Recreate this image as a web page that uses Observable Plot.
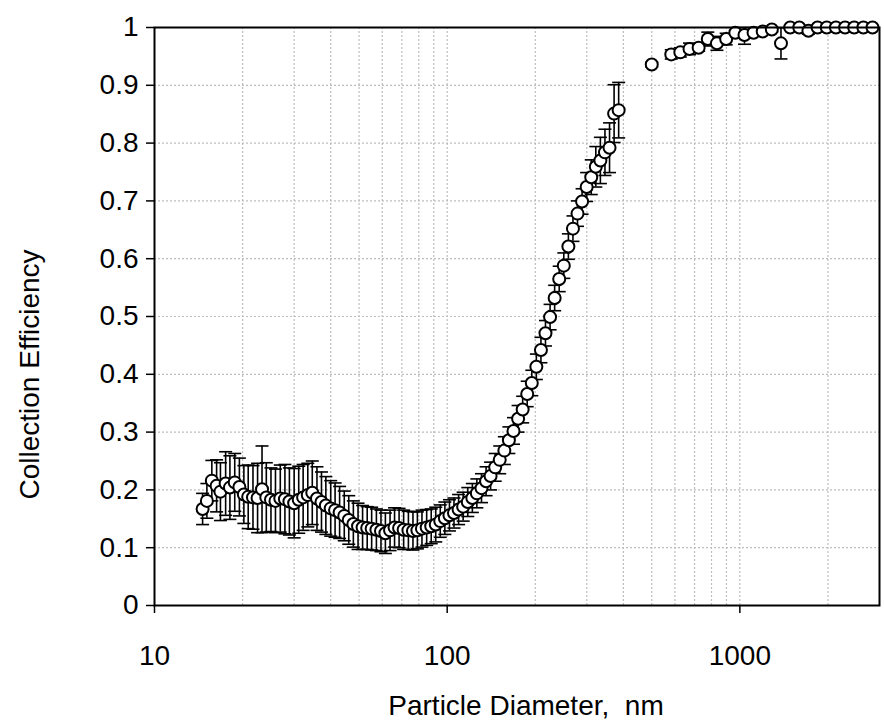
<!DOCTYPE html>
<html>
<head>
<meta charset="utf-8">
<script src="https://cdn.jsdelivr.net/npm/d3@7"></script>
<script src="https://cdn.jsdelivr.net/npm/@observablehq/plot@0.6"></script>
<style>
  html, body { margin: 0; padding: 0; background: #fff; }
  #chart svg { display: block; }
  #chart svg text { white-space: pre; }
</style>
</head>
<body>
<div id="chart"></div>
<script>
// SMPS range (nm)
const smpsDiameter = [14.6, 15.1, 15.7, 16.3, 16.8, 17.5, 18.1, 18.8, 19.5, 20.2, 20.9, 21.7, 22.5, 23.3, 24.1, 25.0, 25.9, 26.9, 27.9, 28.9, 30.0, 31.1, 32.2, 33.4, 34.6, 35.9, 37.2, 38.5, 40.0, 41.4, 42.9, 44.5, 46.1, 47.8, 49.6, 51.4, 53.3, 55.2, 57.3, 59.4, 61.5, 63.8, 66.1, 68.5, 71.0, 73.7, 76.4, 79.1, 82.0, 85.1, 88.2, 91.4, 94.7, 98.2, 101.8, 105.5, 109.4, 113.4, 117.6, 121.9, 126.3, 131.0, 135.8, 140.7, 145.9, 151.2, 156.8, 162.5, 168.5, 174.7, 181.1, 187.7, 194.6, 201.7, 209.1, 216.7, 224.7, 232.9, 241.4, 250.3, 259.5, 269.0, 278.8, 289.0, 299.6, 310.6, 322.0, 333.8, 346.0, 358.7, 371.8, 385.4];
const smpsEfficiency = [0.167, 0.181, 0.216, 0.207, 0.197, 0.211, 0.204, 0.213, 0.205, 0.192, 0.188, 0.187, 0.186, 0.201, 0.187, 0.183, 0.181, 0.185, 0.184, 0.180, 0.177, 0.183, 0.187, 0.191, 0.195, 0.185, 0.179, 0.173, 0.168, 0.165, 0.161, 0.155, 0.148, 0.141, 0.137, 0.135, 0.134, 0.133, 0.131, 0.129, 0.125, 0.130, 0.135, 0.134, 0.131, 0.130, 0.129, 0.130, 0.133, 0.135, 0.137, 0.140, 0.146, 0.151, 0.156, 0.160, 0.166, 0.171, 0.179, 0.186, 0.194, 0.203, 0.215, 0.224, 0.239, 0.252, 0.268, 0.286, 0.302, 0.323, 0.339, 0.366, 0.385, 0.413, 0.442, 0.471, 0.499, 0.532, 0.565, 0.588, 0.621, 0.652, 0.678, 0.699, 0.724, 0.741, 0.759, 0.770, 0.784, 0.792, 0.851, 0.857];
const smpsError = [0.027, 0.030, 0.035, 0.045, 0.050, 0.055, 0.055, 0.050, 0.050, 0.050, 0.055, 0.055, 0.060, 0.075, 0.060, 0.055, 0.055, 0.058, 0.060, 0.058, 0.060, 0.058, 0.057, 0.055, 0.055, 0.055, 0.052, 0.050, 0.048, 0.047, 0.045, 0.043, 0.042, 0.040, 0.040, 0.038, 0.037, 0.037, 0.036, 0.036, 0.035, 0.035, 0.034, 0.034, 0.034, 0.033, 0.033, 0.032, 0.032, 0.031, 0.030, 0.030, 0.028, 0.028, 0.027, 0.026, 0.026, 0.025, 0.025, 0.025, 0.025, 0.025, 0.025, 0.024, 0.024, 0.024, 0.024, 0.023, 0.023, 0.023, 0.023, 0.022, 0.022, 0.022, 0.022, 0.022, 0.022, 0.022, 0.022, 0.022, 0.022, 0.022, 0.022, 0.022, 0.025, 0.030, 0.035, 0.040, 0.040, 0.043, 0.050, 0.048];

// APS range (nm)
const apsDiameter = [500, 583, 626, 673, 723, 777, 835, 898, 965, 1037, 1114, 1197, 1286, 1382, 1486, 1596, 1715, 1843, 1981, 2129, 2288, 2458, 2642, 2839];
const apsEfficiency = [0.936, 0.9535, 0.957, 0.963, 0.965, 0.980, 0.9726, 0.980, 0.991, 0.987, 0.991, 0.993, 0.9965, 0.9726, 1.0, 1.0, 0.9945, 1.0, 1.0, 1.0, 1.0, 1.0, 1.0, 1.0];
const apsError = [0.004, 0.008, 0.008, 0.010, 0.006, 0.012, 0.012, 0.010, 0.004, 0.016, 0.004, 0.004, 0.004, 0.027, 0.002, 0.002, 0.006, 0.002, 0.002, 0.002, 0.002, 0.002, 0.002, 0.002];

// Axes
const xTicks = [10, 100, 1000];
const xTickLabels = ["10", "100", "1000"];
const yTicks = [0, 0.1, 0.2, 0.3, 0.4, 0.5, 0.6, 0.7, 0.8, 0.9, 1];
const yTickLabels = ["0", "0.1", "0.2", "0.3", "0.4", "0.5", "0.6", "0.7", "0.8", "0.9", "1"];
const xGrid = [20, 30, 40, 50, 60, 70, 80, 90, 100, 200, 300, 400, 500, 600, 700, 800, 900, 1000, 2000];
const yGrid = [0.1, 0.2, 0.3, 0.4, 0.5, 0.6, 0.7, 0.8, 0.9];
const xTitle = "Particle Diameter,  nm";
const yTitle = "Collection Efficiency";

const points = [
  ...smpsDiameter.map((d, i) => ({d, e: smpsEfficiency[i], err: smpsError[i]})),
  ...apsDiameter.map((d, i) => ({d, e: apsEfficiency[i], err: apsError[i]}))
];

const capSymbol = {
  draw(context, size) {
    const w = Math.sqrt(size / Math.PI);
    context.moveTo(-w, 0);
    context.lineTo(w, 0);
  }
};

const font = "'Liberation Sans', Arial, Helvetica, sans-serif";
const fs = 28;

const chart = Plot.plot({
  width: 884,
  height: 725,
  marginLeft: 154,
  marginRight: 5,
  marginTop: 27,
  marginBottom: 120,
  style: {fontFamily: font, fontSize: fs + "px", color: "black", background: "white"},
  x: {type: "log", domain: [10, 3000]},
  y: {domain: [0, 1]},
  marks: [
    Plot.ruleX(xGrid, {stroke: "#bdbdbd", strokeWidth: 1.2, strokeDasharray: "2,2"}),
    Plot.ruleY(yGrid, {stroke: "#bdbdbd", strokeWidth: 1.2, strokeDasharray: "2,2"}),
    Plot.ruleX(points, {x: "d", y1: (p) => p.e - p.err, y2: (p) => Math.min(1, p.e + p.err), stroke: "black", strokeWidth: 1.6}),
    Plot.dot(points, {x: "d", y: (p) => Math.min(1, p.e + p.err), symbol: capSymbol, r: 6.5, fill: "none", stroke: "black", strokeWidth: 1.6}),
    Plot.dot(points, {x: "d", y: (p) => p.e - p.err, symbol: capSymbol, r: 6.5, fill: "none", stroke: "black", strokeWidth: 1.6}),
    Plot.dot(points, {x: "d", y: "e", r: 6, fill: "white", stroke: "black", strokeWidth: 2}),
    Plot.frame({stroke: "black", strokeWidth: 2}),
    Plot.axisY(yTicks, {tickSize: 8, tickPadding: 8, strokeWidth: 1.5, tickFormat: (d) => yTickLabels[yTicks.indexOf(d)], label: null, fontSize: fs}),
    Plot.axisX(xTicks, {tickSize: 8, tickPadding: 32, strokeWidth: 1.5, tickFormat: (d) => xTickLabels[xTicks.indexOf(d)], label: null, fontSize: fs}),
    Plot.text([yTitle], {frameAnchor: "left", text: (d) => d, rotate: -90, dx: -124, dy: 58, textAnchor: "middle", fontSize: fs}),
    Plot.text([xTitle], {frameAnchor: "bottom", text: (d) => d, dx: 9, dy: 109, textAnchor: "middle", fontSize: fs})
  ]
});

document.getElementById("chart").appendChild(chart);
</script>
</body>
</html>
